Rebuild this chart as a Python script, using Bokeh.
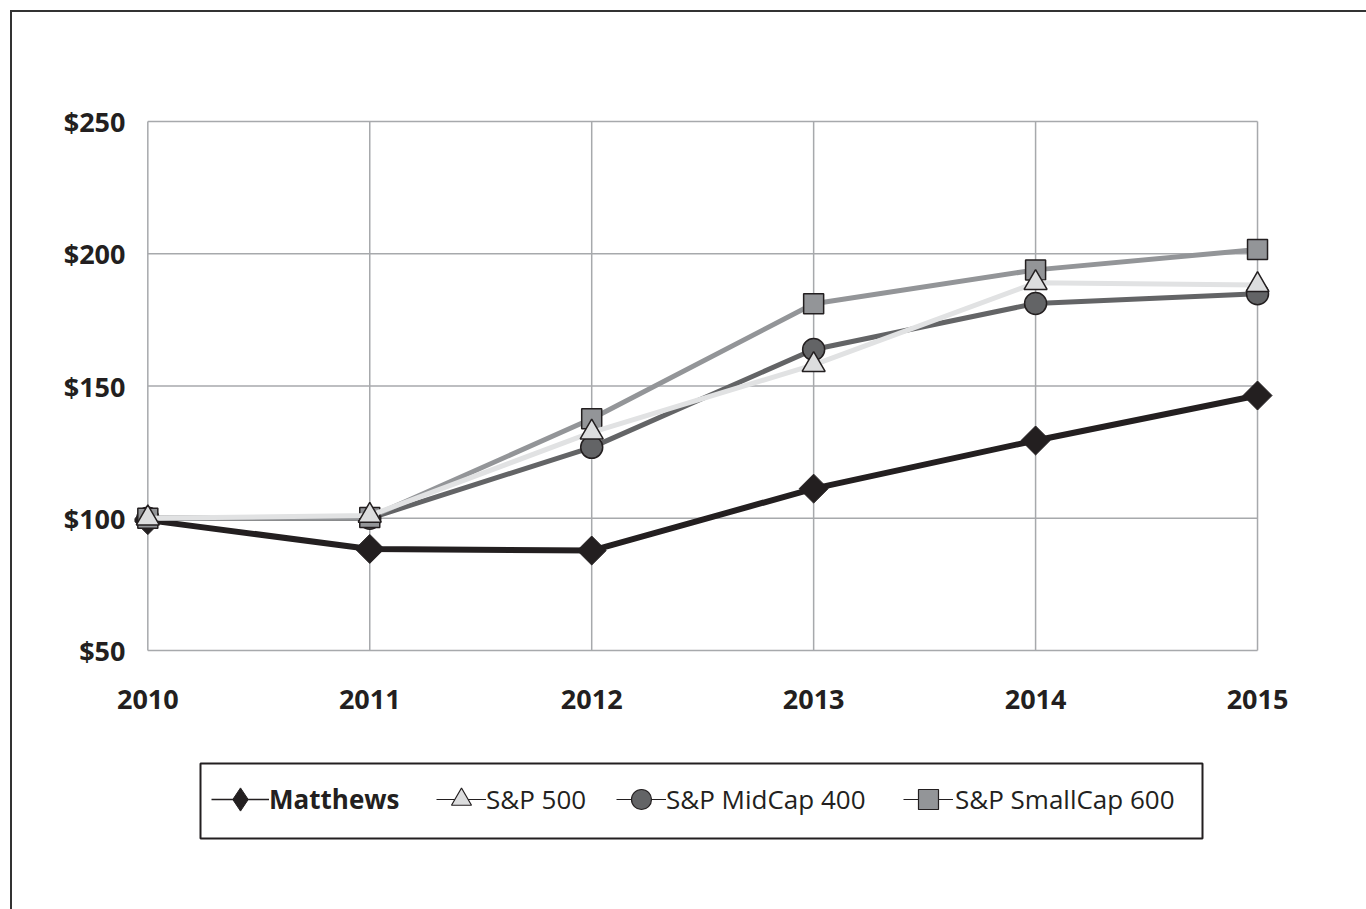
import math
from bokeh.plotting import figure
from bokeh.layouts import column
from bokeh.models import Legend, LegendItem, BoxAnnotation, FixedTicker, Range1d
from bokeh.embed import file_html
from bokeh.resources import INLINE

years = [2010, 2011, 2012, 2013, 2014, 2015]
year_labels = ["2010", "2011", "2012", "2013", "2014", "2015"]
matthews = [99.3, 88.4, 87.8, 111.2, 129.4, 146.4]
sp500 = [100.0, 101.0, 132.5, 158.0, 189.0, 188.2]
midcap = [100.0, 100.0, 126.8, 163.8, 181.2, 184.9]
smallcap = [100.0, 100.3, 137.6, 181.1, 193.9, 201.6]
y_ticks = [50, 100, 150, 200, 250]
y_labels = ["$50", "$100", "$150", "$200", "$250"]
series_names = ["Matthews", "S&P 500", "S&P MidCap 400", "S&P SmallCap 600"]

dark = "#231f20"
grid_col = "#a7a9ac"
c_sp, c_sp_fill = "#e1e2e3", "#dcddde"
c_mid = "#636466"
c_sc = "#939598"

CW = 1354          # content width (page minus 10px margin and 2px frame)
OFF = 12           # page offset of content
HA, HB = 728, 169  # chart figure / legend figure heights
BL, BR = 122, 89   # side borders (shared so both frames line up)
XPAD_L, XPAD_R, YPAD = 0.06, 0.09, 1.89

p = figure(width=CW, height=HA, output_backend="svg", toolbar_location=None,
           x_range=Range1d(years[0] - XPAD_L, years[-1] + XPAD_R),
           y_range=Range1d(y_ticks[0] - YPAD, y_ticks[-1] + YPAD),
           min_border_left=BL, min_border_right=BR, min_border_top=104, min_border_bottom=85)
p.background_fill_color = "white"
p.border_fill_color = "white"
p.outline_line_color = None
p.xgrid.grid_line_color = None
p.ygrid.grid_line_color = None

p.xaxis.ticker = FixedTicker(ticks=years)
p.yaxis.ticker = FixedTicker(ticks=y_ticks)
p.xaxis.major_label_overrides = {y: l for y, l in zip(years, year_labels)}
p.yaxis.major_label_overrides = {v: l for v, l in zip(y_ticks, y_labels)}
for ax in (p.xaxis, p.yaxis):
    ax.axis_line_color = None
    ax.major_tick_line_color = None
    ax.minor_tick_line_color = None
    ax.major_label_text_font = "Open Sans"
    ax.major_label_text_font_style = "bold"
    ax.major_label_text_font_size = "27px"
    ax.major_label_text_color = dark
p.xaxis.major_label_standoff = 28
p.yaxis.major_label_standoff = 3

# grid box: horizontal and vertical grid lines limited to the data extent
p.segment(x0=[years[0]] * len(y_ticks), y0=y_ticks, x1=[years[-1]] * len(y_ticks), y1=y_ticks,
          line_color=grid_col, line_width=1.5)
p.segment(x0=years, y0=[y_ticks[0]] * len(years), x1=years, y1=[y_ticks[-1]] * len(years),
          line_color=grid_col, line_width=1.5)

p.line(years, matthews, line_color=dark, line_width=6)
p.scatter(years, matthews, marker="square", angle=math.pi / 4, size=20.5, fill_color=dark, line_color=dark)

p.line(years, midcap, line_color=c_mid, line_width=5)
p.scatter(years, midcap, marker="circle", size=22, fill_color=c_mid, line_color=dark, line_width=1.5)

p.line(years, smallcap, line_color=c_sc, line_width=5)
p.scatter(years, smallcap, marker="square", size=20, fill_color=c_sc, line_color=dark, line_width=1.5)

p.line(years, sp500, line_color=c_sp, line_width=5)
p.scatter(years, sp500, marker="triangle", size=23, fill_color=c_sp_fill, line_color=dark, line_width=1.5)

# ---- legend strip (ranges in page pixels; series drawn here fall outside the view) ----
FRAME_L = OFF + BL
FRAME_R = OFF + CW - BR
PAGE_TOP_B = OFF + HA
q = figure(width=CW, height=HB, output_backend="svg", toolbar_location=None,
           x_range=Range1d(FRAME_L, FRAME_R), y_range=Range1d(PAGE_TOP_B + HB, PAGE_TOP_B),
           x_axis_location=None, y_axis_location=None,
           min_border_left=BL, min_border_right=BR, min_border_top=0, min_border_bottom=0)
q.outline_line_color = None
q.xgrid.grid_line_color = None
q.ygrid.grid_line_color = None
q.background_fill_color = "white"
q.border_fill_color = "white"

lm_line = q.line(years, matthews, line_color=dark, line_width=1.5)
lm_mk = q.scatter(years, matthews, marker="diamond", fill_color=dark, line_color=dark)
ls_line = q.line(years, sp500, line_color=dark, line_width=1.2)
ls_mk = q.scatter(years, sp500, marker="triangle", fill_color=c_sp_fill, line_color=dark, line_width=1.2)
lmid_line = q.line(years, midcap, line_color=dark, line_width=1.2)
lmid_mk = q.scatter(years, midcap, marker="circle", fill_color=c_mid, line_color=dark, line_width=1.2)
lsc_line = q.line(years, smallcap, line_color=dark, line_width=1.2)
lsc_mk = q.scatter(years, smallcap, marker="square", fill_color=c_sc, line_color=dark, line_width=1.2)

LEG_CY = 799
# (label, renderers, marker centre x on page, glyph box size, label standoff, font style)
entries = [
    (series_names[0], [lm_line, lm_mk], 240, 58, 0, "bold"),
    (series_names[1], [ls_line, ls_mk], 461, 50, 0, "normal"),
    (series_names[2], [lmid_line, lmid_mk], 641, 50, 0, "normal"),
    (series_names[3], [lsc_line, lsc_mk], 928, 50, 2, "normal"),
]
for name, rends, cx, gs, standoff, style in entries:
    lg = Legend(items=[LegendItem(label=name, renderers=rends)],
                location=(cx - gs / 2 - FRAME_L, (PAGE_TOP_B + HB) - (LEG_CY + gs / 2)),
                orientation="horizontal")
    lg.border_line_color = None
    lg.background_fill_alpha = 0
    lg.padding = 0
    lg.margin = 0
    lg.glyph_width = gs
    lg.glyph_height = gs
    lg.label_height = gs
    lg.label_standoff = standoff
    lg.label_text_font = "Open Sans"
    lg.label_text_font_size = "26px"
    lg.label_text_font_style = style
    lg.label_text_color = dark
    lg.label_text_baseline = "middle"
    q.add_layout(lg, "center")

q.add_layout(BoxAnnotation(left=200, right=1202, top=763, bottom=838,
                           fill_alpha=0, line_color=dark, line_alpha=1, line_width=2))

layout = column(p, q, margin=(10, 0, 0, 10),
                styles={"border-left": "2px solid #333333", "border-top": "2px solid #333333"})

open("out.html", "w").write(file_html(layout, INLINE))
